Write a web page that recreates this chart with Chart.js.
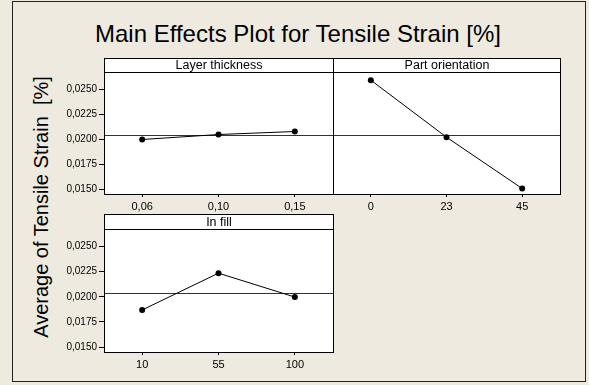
<!DOCTYPE html>
<html>
<head>
<meta charset="utf-8">
<script src="https://cdn.jsdelivr.net/npm/chart.js@4.4.1/dist/chart.umd.min.js"></script>
<style>
  html, body { margin: 0; padding: 0; background: #eeeae0; }
  #wrap { position: relative; width: 589px; height: 385px; background: #eeeae0; overflow: hidden; font-family: "Liberation Sans", Arial, sans-serif; }
  #frame { position: absolute; left: 12px; top: 1px; width: 574px; height: 381px; border: 1px solid #222; box-sizing: border-box; }
  #title { position: absolute; left: 0; width: 596px; top: 20px; text-align: center; font-size: 24px; color: #000; }
  #ytitle { position: absolute; left: 41px; top: 207px; transform: translate(-50%, -50%) rotate(-90deg); white-space: pre; font-size: 20px; color: #000; }
  canvas { position: absolute; }
</style>
</head>
<body>
<div id="wrap">
  <div id="frame"></div>
  <div id="title">Main Effects Plot for Tensile Strain [%]</div>
  <div id="ytitle">Average of Tensile Strain  [%]</div>
  <canvas id="c1" width="297" height="165" style="left:40px;top:50px"></canvas>
  <canvas id="c2" width="235" height="165" style="left:329px;top:50px"></canvas>
  <canvas id="c3" width="297" height="166" style="left:40px;top:207px"></canvas>
</div>
<script>
const yTicks = [0.0150, 0.0175, 0.0200, 0.0225, 0.0250];
const grandMean = 0.0204;

const layerLabels = ['0,06', '0,10', '0,15'];
const layerValues = [0.01997, 0.02047, 0.02077];

const orientLabels = ['0', '23', '45'];
const orientValues = [0.0259, 0.0202, 0.01507];

const infillLabels = ['10', '55', '100'];
const infillValues = [0.01869, 0.02234, 0.01997];

const yFont = { family: '"Liberation Sans", Arial, sans-serif', size: 10 };
const xFont = { family: '"Liberation Sans", Arial, sans-serif', size: 11 };

const panelPlugin = {
  id: 'panel',
  beforeDraw(chart) {
    const { ctx, chartArea: a } = chart;
    ctx.save();
    ctx.fillStyle = '#fff';
    ctx.fillRect(a.left, a.top, a.right - a.left, a.bottom - a.top);
    ctx.restore();
  },
  beforeDatasetsDraw(chart) {
    const { ctx, chartArea: a, scales } = chart;
    const y = Math.round(scales.y.getPixelForValue(grandMean)) + 0.5;
    ctx.save();
    ctx.strokeStyle = '#333';
    ctx.lineWidth = 1;
    ctx.beginPath();
    ctx.moveTo(a.left, y); ctx.lineTo(a.right, y);
    ctx.stroke();
    ctx.restore();
  },
  afterDatasetsDraw(chart, args, opts) {
    const { ctx, chartArea: a } = chart;
    const L = Math.round(a.left) + 0.5, R = Math.round(a.right) + 0.5;
    const T = Math.round(a.top) + 0.5, B = Math.round(a.bottom) + 0.5;
    const st = T - opts.strip;
    ctx.save();
    // strip header
    ctx.fillStyle = '#fff';
    ctx.fillRect(L, st, R - L, T - st);
    ctx.strokeStyle = '#000';
    ctx.lineWidth = 1;
    ctx.strokeRect(L, st, R - L, B - st);
    ctx.beginPath();
    ctx.moveTo(L, T); ctx.lineTo(R, T);
    ctx.stroke();
    ctx.fillStyle = '#000';
    ctx.font = '12.5px "Liberation Sans", Arial, sans-serif';
    ctx.textAlign = 'center';
    ctx.textBaseline = 'middle';
    ctx.fillText(opts.title, (L + R) / 2, (st + T) / 2 + 0.5);
    ctx.restore();
  }
};

function makePanel(id, title, labels, values, showY, strip, padLeft) {
  new Chart(document.getElementById(id), {
    type: 'line',
    data: {
      labels,
      datasets: [{
        data: values,
        borderColor: '#000',
        borderWidth: 1,
        backgroundColor: '#000',
        pointRadius: 3,
        pointBackgroundColor: '#000',
        pointBorderWidth: 0,
        tension: 0,
        fill: false
      }]
    },
    options: {
      responsive: false,
      animation: false,
      events: [],
      layout: { padding: { top: 22, right: 4, left: padLeft, bottom: 0 } },
      plugins: { legend: { display: false }, tooltip: { enabled: false }, panel: { title, strip } },
      scales: {
        x: {
          type: 'category',
          offset: true,
          border: { display: false },
          grid: { drawOnChartArea: false, drawTicks: true, tickLength: 3, color: '#000' },
          ticks: { color: '#000', font: xFont, padding: 3, maxRotation: 0 },
          afterFit(s) { s.height = 21; }
        },
        y: {
          display: showY,
          min: 0.01452,
          max: 0.02672,
          border: { display: false },
          grid: { drawOnChartArea: false, drawTicks: true, tickLength: 5, color: '#000' },
          ticks: { color: '#000', font: yFont, padding: 2, callback: v => v.toFixed(4).replace('.', ',') },
          afterBuildTicks(s) { s.ticks = yTicks.map(v => ({ value: v })); },
          afterFit(s) { s.width = showY ? 64 : 0; }
        }
      }
    },
    plugins: [panelPlugin]
  });
}

makePanel('c1', 'Layer thickness', layerLabels, layerValues, true, 14, 0);
makePanel('c2', 'Part orientation', orientLabels, orientValues, false, 14, 4);
makePanel('c3', 'In fill', infillLabels, infillValues, true, 15, 0);
</script>
</body>
</html>
